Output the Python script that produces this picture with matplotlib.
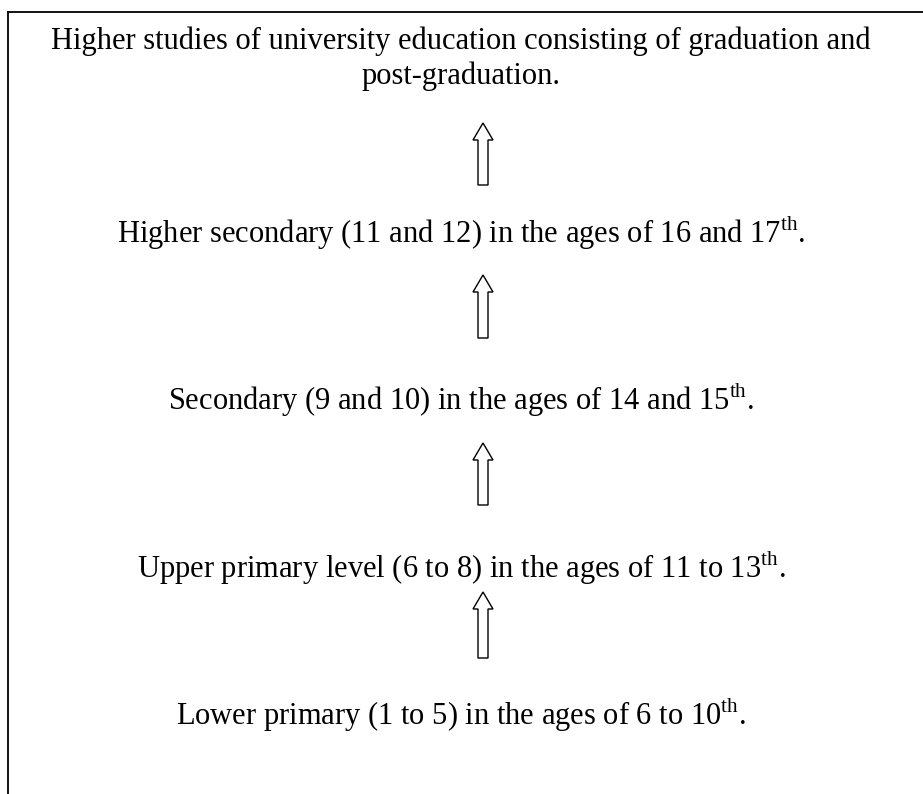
import matplotlib.pyplot as plt
from matplotlib.patches import FancyArrow

plt.rcParams["font.family"] = "Liberation Serif"
plt.rcParams["mathtext.fontset"] = "custom"
plt.rcParams["mathtext.rm"] = "Liberation Serif"

# education levels, top to bottom
levels = [
    "Higher studies of university education consisting of graduation and\npost-graduation.",
    r"Higher secondary (11 and 12) in the ages of 16 and 17$^{\mathrm{th}}$.",
    r"Secondary (9 and 10) in the ages of 14 and 15$^{\mathrm{th}}$.",
    r"Upper primary level (6 to 8) in the ages of 11 to 13$^{\mathrm{th}}$.",
    r"Lower primary (1 to 5) in the ages of 6 to 10$^{\mathrm{th}}$.",
]
text_y = [59, 233, 400, 568, 715]
arrow_span = [(185, 123), (338, 275), (505, 443), (658, 592)]

fig = plt.figure(figsize=(9.23, 7.94), dpi=100)
ax = fig.add_axes([0, 0, 1, 1])
ax.set_xlim(0, 923)
ax.set_ylim(794, 0)
ax.axis("off")

# box border (only top and left visible)
ax.plot([8, 923], [12, 12], color="black", lw=1.3)
ax.plot([8, 8], [12, 794], color="black", lw=1.3)

for txt, y in zip(levels, text_y):
    ax.text(461, y, txt, ha="center", va="center", fontsize=22,
            linespacing=1.25)

for y0, y1 in arrow_span:
    ax.add_patch(FancyArrow(483, y0, 0, y1 - y0, width=10, head_width=20,
                            head_length=17, length_includes_head=True,
                            facecolor="white", edgecolor="black", lw=1.0))

fig.savefig("out.png", dpi=100)
